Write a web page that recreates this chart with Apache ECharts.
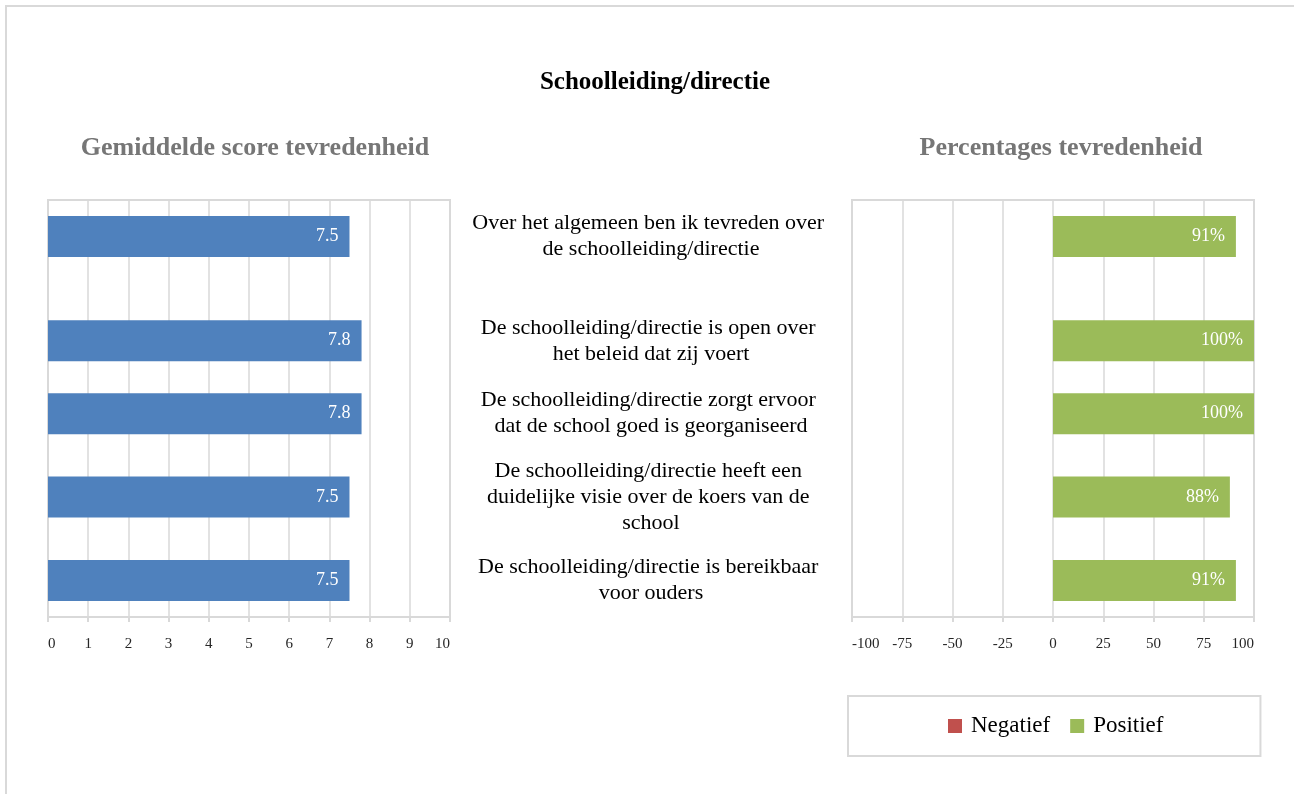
<!DOCTYPE html>
<html>
<head>
<meta charset="utf-8">
<script src="https://cdn.jsdelivr.net/npm/echarts@6/dist/echarts.min.js"></script>
<style>
  html, body { margin: 0; padding: 0; background: #ffffff; }
  #chart { width: 1294px; height: 794px; }
</style>
</head>
<body>
<div id="chart"></div>
<script>
// ---- data ----
const categories = [
  'Over het algemeen ben ik tevreden over de schoolleiding/directie',
  'De schoolleiding/directie is open over het beleid dat zij voert',
  'De schoolleiding/directie zorgt ervoor dat de school goed is georganiseerd',
  'De schoolleiding/directie heeft een duidelijke visie over de koers van de school',
  'De schoolleiding/directie is bereikbaar voor ouders'
];
const scores = [7.5, 7.8, 7.8, 7.5, 7.5];
const negatief = [0, 0, 0, 0, 0];
const positief = [91, 100, 100, 88, 91];
const scoreTicks = [0, 1, 2, 3, 4, 5, 6, 7, 8, 9, 10];
const pctTicks = [-100, -75, -50, -25, 0, 25, 50, 75, 100];

// ---- layout (row slots on a fine category axis) ----
const SLOT_COUNT = 40;
const rowSlot = [3, 13, 20, 28, 36];

function toSlots(arr, empty) {
  const out = new Array(SLOT_COUNT).fill(empty);
  rowSlot.forEach((s, i) => { out[s] = arr[i]; });
  return out;
}
const yCats = toSlots(categories, '');

const FONT = "'Liberation Serif', 'Times New Roman', serif";
const GRID_COLOR = '#d9d9d9';

const chart = echarts.init(document.getElementById('chart'));

function xAxisFor(gridIndex, ticks) {
  return {
    type: 'value',
    gridIndex: gridIndex,
    min: ticks[0],
    max: ticks[ticks.length - 1],
    interval: ticks[1] - ticks[0],
    axisLine: { show: true, lineStyle: { color: GRID_COLOR, width: 2 } },
    axisTick: { show: true, length: 5, lineStyle: { color: GRID_COLOR, width: 2 } },
    splitLine: { show: true, lineStyle: { color: GRID_COLOR, width: 1.5 } },
    axisLabel: {
      fontFamily: FONT, fontSize: 15, color: '#262626', margin: 20,
      alignMinLabel: 'left', alignMaxLabel: 'right'
    }
  };
}

function yAxisFor(gridIndex, showLabels) {
  return {
    type: 'category',
    gridIndex: gridIndex,
    data: yCats,
    inverse: true,
    axisLine: { show: false },
    axisTick: { show: false },
    splitLine: { show: false },
    axisLabel: showLabels ? {
      show: true,
      interval: 0,
      align: 'center',
      margin: 201,
      width: 364,
      overflow: 'break',
      lineHeight: 26,
      fontFamily: FONT,
      fontSize: 22,
      color: '#000000'
    } : { show: false }
  };
}

const labelStyle = {
  show: true,
  position: 'insideRight',
  distance: 11,
  color: '#ffffff',
  fontFamily: FONT,
  fontSize: 18
};

chart.setOption({
  animation: false,
  backgroundColor: '#ffffff',
  textStyle: { fontFamily: FONT },
  graphic: [{
    type: 'rect',
    shape: { x: 6, y: 6, width: 1320, height: 820 },
    style: { fill: 'none', stroke: GRID_COLOR, lineWidth: 2 },
    silent: true,
    z: -10
  }],
  title: [
    {
      text: 'Schoolleiding/directie',
      left: 650, top: 65, textAlign: 'center',
      textStyle: { fontFamily: FONT, fontSize: 25, fontWeight: 'bold', color: '#000000' }
    },
    {
      text: 'Gemiddelde score tevredenheid',
      left: 250, top: 130, textAlign: 'center',
      textStyle: { fontFamily: FONT, fontSize: 26, fontWeight: 'bold', color: '#767676' }
    },
    {
      text: 'Percentages tevredenheid',
      left: 1056, top: 130, textAlign: 'center',
      textStyle: { fontFamily: FONT, fontSize: 26, fontWeight: 'bold', color: '#767676' }
    }
  ],
  legend: {
    data: ['Negatief', 'Positief'],
    left: 848,
    top: 696,
    orient: 'horizontal',
    icon: 'rect',
    itemWidth: 14,
    itemHeight: 14,
    itemGap: 20,
    padding: [17, 97, 17, 100],
    borderColor: GRID_COLOR,
    borderWidth: 2,
    textStyle: { fontFamily: FONT, fontSize: 23, color: '#000000', lineHeight: 26, padding: [0, 0, 0, 4] }
  },
  grid: [
    { left: 48, top: 200, width: 402, height: 417, show: true, borderColor: GRID_COLOR, borderWidth: 2, containLabel: false },
    { left: 852, top: 200, width: 402, height: 417, show: true, borderColor: GRID_COLOR, borderWidth: 2, containLabel: false }
  ],
  xAxis: [xAxisFor(0, scoreTicks), xAxisFor(1, pctTicks)],
  yAxis: [yAxisFor(0, false), yAxisFor(1, true)],
  series: [
    {
      name: 'Gemiddelde',
      type: 'bar',
      xAxisIndex: 0, yAxisIndex: 0,
      data: toSlots(scores, '-'),
      barWidth: 41,
      itemStyle: { color: '#4f81bd' },
      label: Object.assign({}, labelStyle, { formatter: p => Number(p.value).toFixed(1) })
    },
    {
      name: 'Negatief',
      type: 'bar',
      stack: 'pct',
      xAxisIndex: 1, yAxisIndex: 1,
      data: toSlots(negatief, '-'),
      barWidth: 41,
      itemStyle: { color: '#c0504d' },
      label: { show: false }
    },
    {
      name: 'Positief',
      type: 'bar',
      stack: 'pct',
      xAxisIndex: 1, yAxisIndex: 1,
      data: toSlots(positief, '-'),
      barWidth: 41,
      itemStyle: { color: '#9bbb59' },
      label: Object.assign({}, labelStyle, { formatter: p => p.value + '%' })
    }
  ]
});
</script>
</body>
</html>
